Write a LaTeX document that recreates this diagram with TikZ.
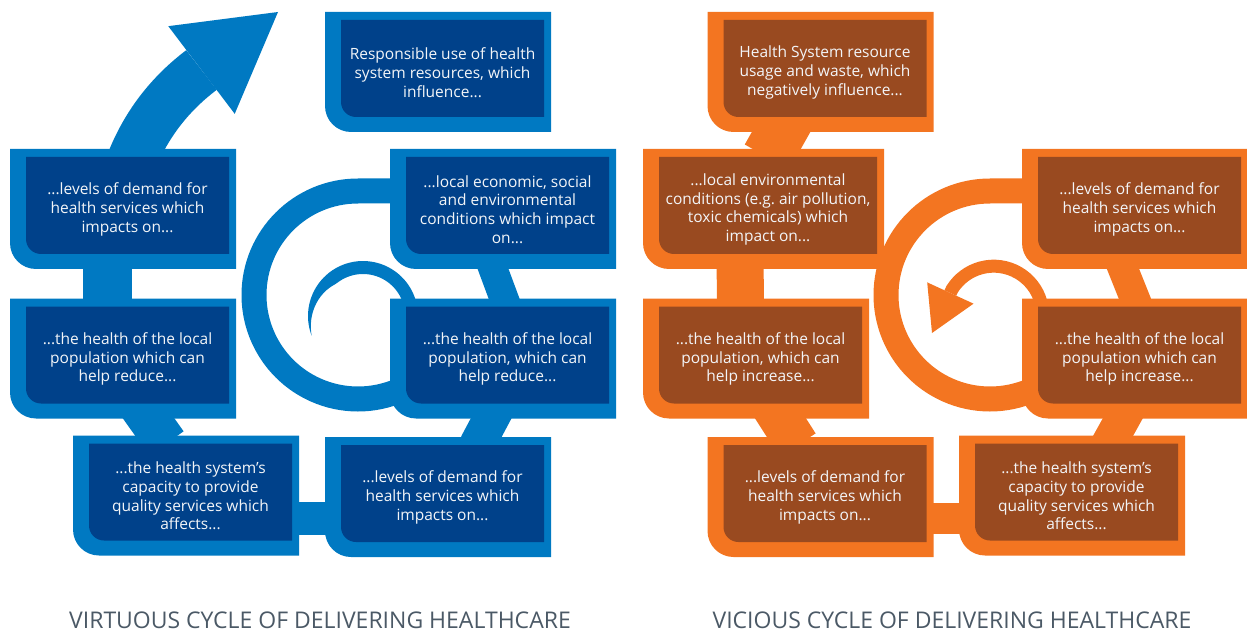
\documentclass[tikz,border=0pt]{standalone}
\usepackage{fontspec}
\setmainfont{Open Sans}
\usetikzlibrary{arrows.meta,calc,backgrounds}

\definecolor{virLight}{HTML}{0079C2}
\definecolor{virDark}{HTML}{00418A}
\definecolor{vicLight}{HTML}{F37521}
\definecolor{vicDark}{HTML}{994A20}
\definecolor{stageText}{HTML}{F3F5F8}
\definecolor{titleGrey}{HTML}{4B5966}

\tikzset{
	stage/.style={inner sep=0pt, outer sep=0pt, minimum width=203, minimum height=97,
		align=center, text=stageText, font=\fontsize{15.5}{18.7}\selectfont},
	cycle title/.style={text=titleGrey, font=\fontsize{23}{26}\selectfont},
	virtuous/.style={plate/.style={fill=virLight}, core/.style={fill=virDark},
		band/.style={draw=virLight, line width=##1}},
	vicious/.style={plate/.style={fill=vicLight}, core/.style={fill=vicDark},
		band/.style={draw=vicLight, line width=##1}}
}

% light plate behind a stage node, dark panel on top; only the lower left corner is rounded
% (the text sits 4pt below the middle of the dark panel)
\newcommand{\stageplate}[1]{%
	\fill[plate] ($(#1.north west)+(-16,-12)$) -- ($(#1.north east)+(7,-12)$)
		-- ($(#1.south east)+(7,11)$) -- ($(#1.south)+(0,11)$) [rounded corners=26pt]
		-- ($(#1.south west)+(-16,11)$) -- ($(#1.west)+(-16,-4)$) [sharp corners] -- cycle;
	\fill[core] ($(#1.north west)+(0,-4)$) -- ($(#1.north east)+(0,-4)$) -- ($(#1.south east)+(0,-4)$)
		-- ($(#1.south)+(0,-4)$) [rounded corners=15pt] -- ($(#1.south west)+(0,-4)$)
		-- ($(#1.west)+(0,-4)$) [sharp corners] -- cycle;
}

\begin{document}
\begin{tikzpicture}[x=1pt, y=-1pt]
	\useasboundingbox (0,0) rectangle (1247,636);
	
	%% virtuous cycle
	\begin{scope}[virtuous]
		\node[stage] (virUse) at (442.5,72.5) {Responsible use of health\\system resources, which\\influence...};
		\node[stage] (virDemandA) at (127.5,209.5) {...levels of demand for\\health services which\\impacts on...};
		\node[stage] (virEconomy) at (507.5,209.5) {...local economic, social\\and environmental\\conditions which impact\\on...};
		\node[stage] (virHealthA) at (127.5,359) {...the health of the local\\population which can\\help reduce...};
		\node[stage] (virHealthB) at (507.5,359) {...the health of the local\\population, which can\\help reduce...};
		\node[stage] (virCapacity) at (190.5,496) {...the health system’s\\capacity to provide\\quality services which\\affects...};
		\node[stage] (virDemandB) at (442.5,497.5) {...levels of demand for\\health services which\\impacts on...};
		\node[cycle title] (virTitle) at (320,620) {VIRTUOUS CYCLE OF DELIVERING HEALTHCARE};
		\coordinate (virTip) at (278,12);
		
		\begin{scope}[on background layer]
			\draw[band=49] ($(virDemandA.south west)+(81,-4)$) -- ($(virHealthA.north west)+(81,-4)$);
			\draw[band=42] ($(virHealthA.south west)+(112,-4)$) -- ($(virCapacity.north west)+(77.5,-4)$);
			\draw[band=33] ($(virCapacity.east)+(0,22)$) -- ($(virDemandB.west)+(0,20.5)$);
			\draw[band=36] ($(virDemandB.north west)+(136,-4)$) -- ($(virHealthB.south west)+(93,-4)$);
			\draw[band=29] ($(virHealthB.north west)+(101,-4)$) -- ($(virEconomy.south west)+(81.5,-4)$);
			% outer swirl and the tapering inner curl
			\draw[band=25] ($(virEconomy.north west)+(-6,30)$) -- ++(-42,0)
				arc[start angle=270, end angle=72, radius=104] -- ($(virHealthB.south west)+(13,-23)$);
			\fill[plate] plot[domain=159:350, samples=48] ({363+55*cos(\x)},{316+55*sin(\x)})
				-- plot[domain=350:159, samples=48] ({363+(42+13*max(0,(230-\x)/71))*cos(\x)},{316+(42+13*max(0,(230-\x)/71))*sin(\x)}) -- cycle;
			% way out of the cycle
			\draw[band=50, -{Triangle[length=96pt, width=110pt, line width=0pt]}]
				($(virDemandA.north west)+(103,7)$) .. controls +(14,-38.5) and +(-111.6,84.6) .. (virTip);
			
			\foreach \s in {virUse,virDemandA,virEconomy,virHealthA,virHealthB,virDemandB}
				\stageplate{\s};
			% four lines of text: plate kept at the row height
			\begin{scope}[shift={(0,1.5)}]
				\stageplate{virCapacity}
			\end{scope}
		\end{scope}
	\end{scope}
	
	%% vicious cycle
	\begin{scope}[vicious]
		\node[stage] (vicUse) at (825,72.5) {Health System resource\\usage and waste, which\\negatively influence...};
		\node[stage, minimum width=218] (vicEnviron) at (768,209.5) {...local environmental\\conditions (e.g.\ air pollution,\\toxic chemicals) which\\impact on...};
		\node[stage] (vicDemandA) at (1139.5,209.5) {...levels of demand for\\health services which\\impacts on...};
		\node[stage] (vicHealthA) at (760.5,359) {...the health of the local\\population, which can\\help increase...};
		\node[stage] (vicHealthB) at (1139.5,359) {...the health of the local\\population which can\\help increase...};
		\node[stage] (vicDemandB) at (825,497.5) {...levels of demand for\\health services which\\impacts on...};
		\node[stage] (vicCapacity) at (1076.5,496) {...the health system’s\\capacity to provide\\quality services which\\affects...};
		\node[cycle title] (vicTitle) at (952,620) {VICIOUS CYCLE OF DELIVERING HEALTHCARE};
		\coordinate (vicTip) at (932,333);
		
		\begin{scope}[on background layer]
			\draw[band=51] ($(vicUse.south west)+(66,-4)$) -- ($(vicEnviron.north west)+(108,-4)$);
			\draw[band=47] ($(vicEnviron.south west)+(81,-4)$) -- ($(vicHealthA.north west)+(81.5,-4)$);
			\draw[band=43] ($(vicHealthA.south west)+(112,-4)$) -- ($(vicDemandB.north west)+(74,-4)$);
			\draw[band=31] ($(vicDemandB.east)+(0,20.5)$) -- ($(vicCapacity.west)+(0,22)$);
			\draw[band=35] ($(vicCapacity.north west)+(133,-2.5)$) -- ($(vicHealthB.south west)+(93,-4)$);
			\draw[band=30] ($(vicHealthB.north west)+(100,-4)$) -- ($(vicDemandA.south west)+(79,-4)$);
			% outer swirl and the inner loop turning back
			\draw[band=25] ($(vicDemandA.north west)+(-6,30)$) -- ++(-42,0)
				arc[start angle=270, end angle=72, radius=104] -- ($(vicHealthB.south west)+(13,-23)$);
			\draw[band=13, -{Triangle[length=44pt, width=51pt, line width=0pt]}]
				($(vicHealthB.north west)+(3,-8)$) arc[start angle=345, end angle=212, radius=49] -- (vicTip);
			
			\foreach \s in {vicUse,vicEnviron,vicDemandA,vicHealthA,vicHealthB,vicDemandB}
				\stageplate{\s};
			\begin{scope}[shift={(0,1.5)}]
				\stageplate{vicCapacity}
			\end{scope}
		\end{scope}
	\end{scope}
\end{tikzpicture}
\end{document}
